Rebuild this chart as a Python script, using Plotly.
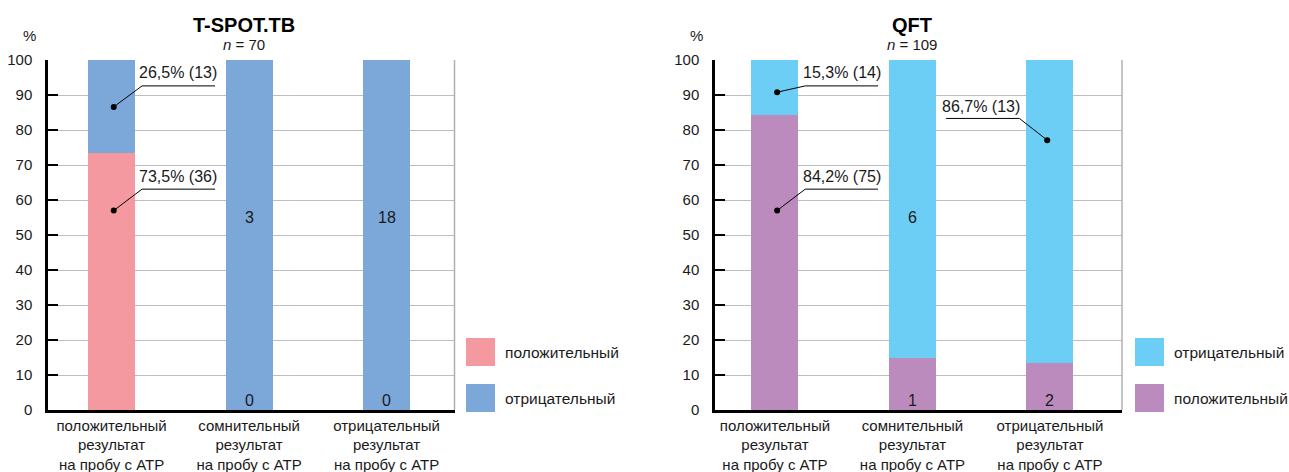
import plotly.graph_objects as go

# ---------------- data ----------------
categories = ["положительный<br>результат<br>на пробу с АТР",
              "сомнительный<br>результат<br>на пробу с АТР",
              "отрицательный<br>результат<br>на пробу с АТР"]
tick_values = [0, 10, 20, 30, 40, 50, 60, 70, 80, 90, 100]

tspot_title = "T-SPOT.TB"
tspot_n = 70
tspot_pos = [73.5, 0, 0]          # % положительный
tspot_neg = [26.5, 100, 100]      # % отрицательный
tspot_pos_counts = [36, 0, 0]
tspot_neg_counts = [13, 3, 18]

qft_title = "QFT"
qft_n = 109
qft_pos = [84.2, 15.0, 13.3]
qft_neg = [15.8, 85.0, 86.7]
qft_pos_counts = [75, 1, 2]
qft_neg_counts = [14, 6, 13]
qft_neg_label_pct = ["15,3%", "", "86,7%"]

pos_name = "положительный"
neg_name = "отрицательный"

# ---------------- style ----------------
FONT = "Liberation Sans, Arial, Helvetica, sans-serif"
TXT = "#1a1a1a"
PINK = "#F599A0"
BLUE = "#7BA7D9"
CYAN = "#6CCEF5"
PURPLE = "#BB8BBE"
W, H = 1289, 472

fig = go.Figure()
x_idx = list(range(len(categories)))
BAR_W = 0.342


def add_stack(xa, ya, bottom, top, bname, tname, bcol, tcol):
    fig.add_trace(go.Bar(x=x_idx, y=bottom, name=bname, marker_color=bcol,
                         marker_line_width=0, width=BAR_W, xaxis=xa, yaxis=ya,
                         showlegend=False, hoverinfo="skip"))
    fig.add_trace(go.Bar(x=x_idx, y=top, name=tname, marker_color=tcol,
                         marker_line_width=0, width=BAR_W, xaxis=xa, yaxis=ya,
                         showlegend=False, hoverinfo="skip"))


add_stack("x", "y", tspot_pos, tspot_neg, pos_name, neg_name, PINK, BLUE)
add_stack("x2", "y2", qft_pos, qft_neg, pos_name, neg_name, PURPLE, CYAN)

annotations = []
shapes = []


def pct(v):
    return (f"{v:.1f}").replace(".", ",") + "%"


def note(**kw):
    kw.setdefault("showarrow", False)
    kw.setdefault("xanchor", "center")
    kw.setdefault("yanchor", "middle")
    annotations.append(kw)


def callout(xa, ya, dot, elbow, end, text_xy, text):
    fig.add_trace(go.Scatter(x=[dot[0], elbow[0], end[0]], y=[dot[1], elbow[1], end[1]],
                             mode="lines", line=dict(color="black", width=1),
                             xaxis=xa, yaxis=ya, showlegend=False, hoverinfo="skip"))
    fig.add_trace(go.Scatter(x=[dot[0]], y=[dot[1]], mode="markers",
                             marker=dict(color="black", size=6),
                             xaxis=xa, yaxis=ya, showlegend=False, hoverinfo="skip"))
    note(x=text_xy[0], y=text_xy[1], xref=xa, yref=ya, text=text,
         font=dict(family=FONT, size=16, color=TXT))


# T-SPOT callouts
callout("x", "y", (0.016, 86.6), (0.222, 92.6), (0.753, 92.6), (0.484, 96.4),
        f"{pct(tspot_neg[0])} ({tspot_neg_counts[0]})")
callout("x", "y", (0.016, 57.0), (0.222, 63.1), (0.753, 63.1), (0.484, 66.7),
        f"{pct(tspot_pos[0])} ({tspot_pos_counts[0]})")
# QFT callouts
callout("x2", "y2", (0.016, 90.8), (0.22, 92.6), (0.75, 92.6), (0.49, 96.4),
        f"{qft_neg_label_pct[0]} ({qft_neg_counts[0]})")
callout("x2", "y2", (0.016, 57.0), (0.22, 63.1), (0.75, 63.1), (0.49, 66.7),
        f"{pct(qft_pos[0])} ({qft_pos_counts[0]})")
callout("x2", "y2", (1.98, 77.1), (1.778, 83.3), (1.245, 83.3), (1.502, 86.8),
        f"{qft_neg_label_pct[2]} ({qft_neg_counts[2]})")

# count labels inside bars
for xa, ya, counts, idxs in (("x", "y", tspot_neg_counts, (1, 2)),
                             ("x2", "y2", qft_neg_counts, (1,))):
    for i in idxs:
        note(x=i, y=55, xref=xa, yref=ya, text=str(counts[i]),
             font=dict(family=FONT, size=16, color=TXT))
for xa, ya, counts in (("x", "y", tspot_pos_counts), ("x2", "y2", qft_pos_counts)):
    for i in (1, 2):
        note(x=i, y=0, xref=xa, yref=ya, text=str(counts[i]), yanchor="bottom", yshift=-1,
             font=dict(family=FONT, size=16, color=TXT))

# titles
for cx, title, n in ((244, tspot_title, tspot_n), (912, qft_title, qft_n)):
    note(x=cx / W, y=1 - 25 / H, xref="paper", yref="paper", text=f"<b>{title}</b>",
         font=dict(family=FONT, size=20, color="black"))
    note(x=cx / W, y=1 - 45 / H, xref="paper", yref="paper", text=f"<i>n</i> = {n}",
         font=dict(family=FONT, size=15, color=TXT))
for px in (29.5, 696):
    note(x=px / W, y=1 - 35 / H, xref="paper", yref="paper", text="%",
         font=dict(family=FONT, size=15, color=TXT))

# legends (drawn as swatches + text)
for sx, items in ((466, [(pos_name, PINK), (neg_name, BLUE)]),
                  (1135, [(neg_name, CYAN), (pos_name, PURPLE)])):
    for k, (label, col) in enumerate(items):
        top = 338 + k * 46
        shapes.append(dict(type="rect", xref="paper", yref="paper",
                           x0=sx / W, x1=(sx + 29) / W, y0=1 - (top + 28) / H, y1=1 - top / H,
                           fillcolor=col, line=dict(width=0)))
        note(x=(sx + 37) / W, y=1 - (top + 14) / H, xref="paper", yref="paper",
             text=label, xanchor="left", font=dict(family=FONT, size=15.5, color=TXT))

# right-edge frame lines
for xa, ya in (("x", "y"), ("x2", "y2")):
    shapes.append(dict(type="line", xref=f"{xa} domain", yref=f"{ya} domain",
                       x0=1, x1=1, y0=0, y1=1, line=dict(color="#b0b0b0", width=1.5)))

xdom1 = [48 / W, 454.5 / W]
xdom2 = [715 / W, 1122 / W]
ydom = [1 - 410 / H, 1 - 60 / H]

xaxis_common = dict(tickvals=x_idx, ticktext=categories,
                    showline=True, linecolor="black", linewidth=2.5, ticks="",
                    showgrid=False, zeroline=False, ticklabelstandoff=0, automargin=False,
                    tickfont=dict(family=FONT, size=15, color=TXT), fixedrange=True)
yaxis_common = dict(range=[0, 100], tickvals=tick_values, showline=True, linecolor="black",
                    linewidth=2.5, ticks="inside", ticklen=10, tickwidth=2, tickcolor="black",
                    showgrid=True, gridcolor="#bdbdbd", gridwidth=1.2, zeroline=False,
                    ticklabelstandoff=10, tickfont=dict(family=FONT, size=15, color=TXT),
                    automargin=False, fixedrange=True)

fig.update_layout(
    width=W, height=H, margin=dict(l=0, r=0, t=0, b=0, pad=0),
    paper_bgcolor="white", plot_bgcolor="white", barmode="stack", bargap=0,
    xaxis=dict(domain=xdom1, anchor="y", range=[-0.462, 2.494], **xaxis_common),
    yaxis=dict(domain=ydom, anchor="x", **yaxis_common),
    xaxis2=dict(domain=xdom2, anchor="y2", range=[-0.436, 2.524], **xaxis_common),
    yaxis2=dict(domain=ydom, anchor="x2", **yaxis_common),
    annotations=annotations, shapes=shapes,
    font=dict(family=FONT, color=TXT),
)

fig.write_html("out.html", config={"displayModeBar": False},
               post_script="document.body.style.margin='0';document.body.style.overflow='hidden';")
